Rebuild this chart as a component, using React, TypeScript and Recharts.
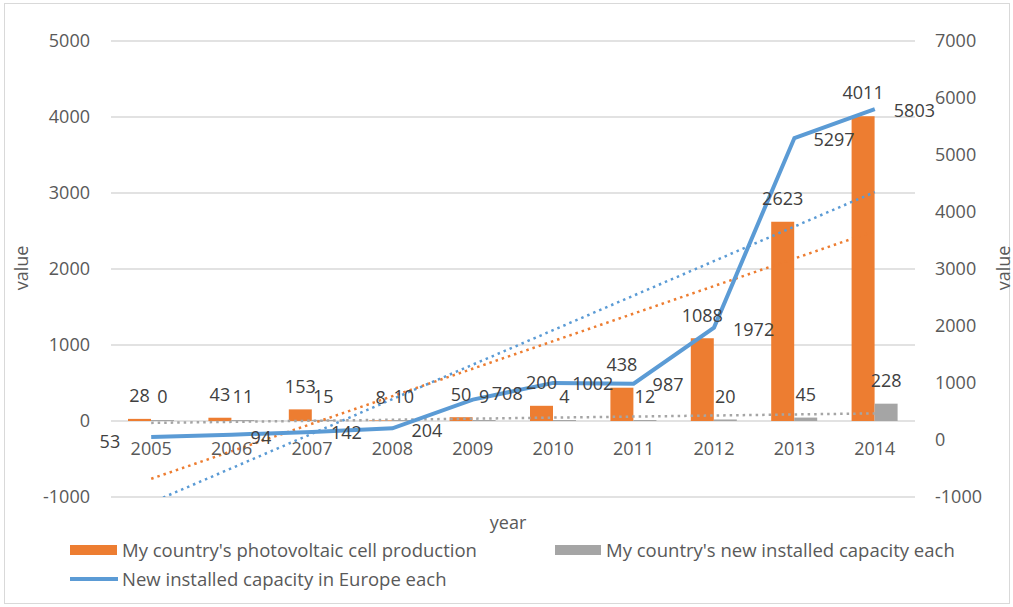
import React from 'react';
import {
  ComposedChart,
  Bar,
  Line,
  XAxis,
  YAxis,
  CartesianGrid,
  ReferenceLine,
  LabelList,
} from 'recharts';

const years = ['2005', '2006', '2007', '2008', '2009', '2010', '2011', '2012', '2013', '2014'];
const cellProduction = [28, 43, 153, 8, 50, 200, 438, 1088, 2623, 4011];
const newInstalled = [0, 11, 15, 10, 9, 4, 12, 20, 45, 228];
const europeInstalled = [53, 94, 142, 204, 708, 1002, 987, 1972, 5297, 5803];

// trend line end values (first year, last year)
const productionTrend = [-760, 2500];
const installedTrend = [-25, 100];
const europeTrend = [-1100, 4350];

const leftTicks = [-1000, 0, 1000, 2000, 3000, 4000, 5000];
const rightTicks = [-1000, 0, 1000, 2000, 3000, 4000, 5000, 6000, 7000];

// label placement for the Europe line
const lineLabelSide = ['left', 'right', 'right', 'right', 'right', 'right', 'right', 'right', 'right', 'right'];
const lineLabelDy = [5, 3, 1, 2, -6, 1, 1, 2, 2, 1];

const ORANGE = '#ED7D31';
const GRAY = '#A5A5A5';
const BLUE = '#5B9BD5';
const FONT = '"Open Sans", sans-serif';
const LABEL = '#404040';
const TICK = '#595959';

const data = years.map((year, i) => ({
  year,
  production: cellProduction[i],
  installed: newInstalled[i],
  europe: europeInstalled[i],
}));

const barLabel = (props: any) => {
  const { x, y, width, height, value } = props;
  // top of the bar, whichever way the rect is stored
  const top = height < 0 ? y + height : y;
  return (
    <text
      x={x + width / 2}
      y={top - 23}
      dy="0.35em"
      textAnchor="middle"
      fontSize={18}
      fontFamily={FONT}
      fill={LABEL}
    >
      {String(value)}
    </text>
  );
};

const lineLabel = (props: any) => {
  const { x, y, value, index } = props;
  const left = lineLabelSide[index] === 'left';
  return (
    <text
      x={left ? x - 31 : x + 19}
      y={y + lineLabelDy[index]}
      dy="0.35em"
      textAnchor={left ? 'end' : 'start'}
      fontSize={18}
      fontFamily={FONT}
      fill={LABEL}
    >
      {value}
    </text>
  );
};

const YearTick = (props: any) => {
  const { x, y, payload } = props;
  return (
    <text
      x={x}
      y={y - 56}
      dy="0.35em"
      textAnchor="middle"
      fontSize={18}
      fontFamily={FONT}
      fill={TICK}
    >
      {payload.value}
    </text>
  );
};

const dotted = { strokeWidth: 2.5, strokeDasharray: '2.5 4' };

export default function App() {
  return (
    <div
      style={{
        position: 'absolute',
        left: 0,
        top: 0,
        width: 1013,
        height: 607,
        background: '#fff',
        fontFamily: FONT,
      }}
    >
      <div
        style={{
          position: 'absolute',
          left: 4,
          top: 3,
          width: 1006,
          height: 601,
          border: '1px solid #d9d9d9',
          boxSizing: 'border-box',
        }}
      />
      <ComposedChart
        width={1013}
        height={607}
        data={data}
        margin={{ top: 41, right: 0, bottom: 80, left: 0 }}
        barGap={0}
        style={{ position: 'absolute', left: 0, top: 0 }}
      >
        <CartesianGrid yAxisId="left" vertical={false} stroke="#d9d9d9" strokeWidth={1.5} />
        <XAxis
          dataKey="year"
          height={30}
          axisLine={false}
          tickLine={false}
          tick={<YearTick />}
          interval={0}
        />
        <YAxis
          yAxisId="left"
          width={111}
          domain={[-1000, 5000]}
          ticks={leftTicks}
          axisLine={false}
          tickLine={false}
          tickSize={0}
          tickMargin={21}
          tick={{ fontSize: 18, fontFamily: FONT, fill: TICK }}
        />
        <YAxis
          yAxisId="right"
          orientation="right"
          width={98}
          domain={[-1000, 7000]}
          ticks={rightTicks}
          axisLine={false}
          tickLine={false}
          tickSize={0}
          tickMargin={20}
          tick={{ fontSize: 18, fontFamily: FONT, fill: TICK, textAnchor: 'start' }}
        />
        <Bar yAxisId="left" dataKey="production" fill={ORANGE} barSize={23} isAnimationActive={false}>
          <LabelList dataKey="production" content={barLabel} />
        </Bar>
        <Bar
          yAxisId="left"
          dataKey="installed"
          fill={GRAY}
          barSize={23}
          minPointSize={1}
          isAnimationActive={false}
        >
          <LabelList dataKey="installed" content={barLabel} />
        </Bar>
        <ReferenceLine
          yAxisId="left"
          segment={[
            { x: years[0], y: installedTrend[0] },
            { x: years[years.length - 1], y: installedTrend[1] },
          ]}
          stroke={GRAY}
          {...dotted}
          ifOverflow="hidden"
        />
        <ReferenceLine
          yAxisId="left"
          segment={[
            { x: years[0], y: productionTrend[0] },
            { x: years[years.length - 1], y: productionTrend[1] },
          ]}
          stroke={ORANGE}
          {...dotted}
          ifOverflow="hidden"
        />
        <ReferenceLine
          yAxisId="right"
          segment={[
            { x: years[0], y: europeTrend[0] },
            { x: years[years.length - 1], y: europeTrend[1] },
          ]}
          stroke={BLUE}
          {...dotted}
          ifOverflow="hidden"
        />
        <Line
          yAxisId="right"
          dataKey="europe"
          stroke={BLUE}
          strokeWidth={4}
          dot={false}
          activeDot={false}
          isAnimationActive={false}
        >
          <LabelList dataKey="europe" content={lineLabel} />
        </Line>
      </ComposedChart>

      {/* axis titles */}
      <div
        style={{
          position: 'absolute',
          left: 21,
          top: 268,
          transform: 'translate(-50%, -50%) rotate(-90deg)',
          fontSize: 18,
          color: TICK,
        }}
      >
        value
      </div>
      <div
        style={{
          position: 'absolute',
          left: 1003,
          top: 268,
          transform: 'translate(-50%, -50%) rotate(-90deg)',
          fontSize: 18,
          color: TICK,
        }}
      >
        value
      </div>
      <div
        style={{
          position: 'absolute',
          left: 508,
          top: 522,
          transform: 'translate(-50%, -50%)',
          fontSize: 18,
          color: TICK,
        }}
      >
        year
      </div>

      {/* legend */}
      <div style={{ position: 'absolute', left: 70, top: 538, display: 'flex', alignItems: 'center', fontSize: 18.5, color: TICK, lineHeight: '24px' }}>
        <span style={{ display: 'inline-block', width: 47, height: 10, background: ORANGE, marginRight: 5 }} />
        My country's photovoltaic cell production
      </div>
      <div style={{ position: 'absolute', left: 555, top: 538, display: 'flex', alignItems: 'center', fontSize: 18.5, color: TICK, lineHeight: '24px' }}>
        <span style={{ display: 'inline-block', width: 46, height: 10, background: GRAY, marginRight: 5 }} />
        My country's new installed capacity each
      </div>
      <div style={{ position: 'absolute', left: 70, top: 567, display: 'flex', alignItems: 'center', fontSize: 18.5, color: TICK, lineHeight: '24px' }}>
        <span style={{ display: 'inline-block', width: 48, height: 4, background: BLUE, marginRight: 4 }} />
        New installed capacity in Europe each
      </div>
    </div>
  );
}
